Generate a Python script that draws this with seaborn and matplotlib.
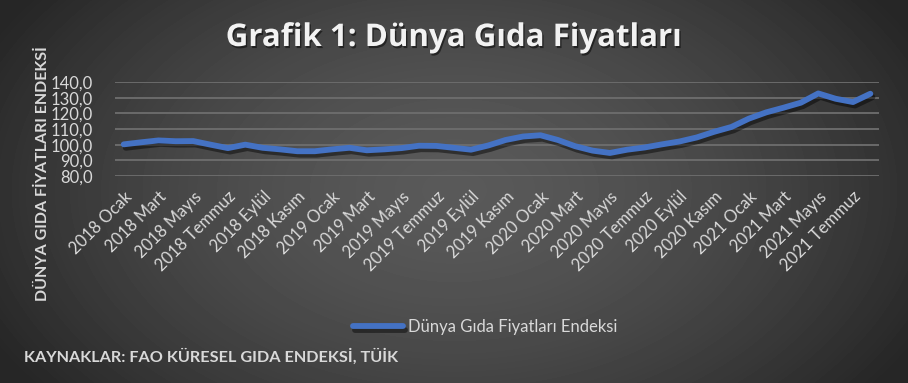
import numpy as np
import pandas as pd
import seaborn as sns
import matplotlib.pyplot as plt
import matplotlib.patheffects as pe
from matplotlib.ticker import FuncFormatter

# monthly index, 2018 Ocak .. 2021 Agustos
months = ['Ocak', 'Şubat', 'Mart', 'Nisan', 'Mayıs', 'Haziran',
          'Temmuz', 'Ağustos', 'Eylül', 'Ekim', 'Kasım', 'Aralık']
years = [2018, 2019, 2020, 2021]
values = [100.2, 101.5, 102.7, 102.2, 102.3, 100.0, 97.8, 100.0, 98.0, 97.0, 95.8, 95.8,
          97.0, 98.0, 96.4, 97.0, 97.8, 99.3, 99.2, 98.0, 96.8, 99.5, 103.0, 105.2,
          106.0, 103.0, 99.0, 96.2, 94.7, 96.8, 98.2, 100.2, 102.0, 104.6, 108.2, 111.3,
          116.6, 120.6, 123.6, 126.8, 132.7, 129.3, 127.2, 132.5]
labels = [f'{y} {m}' for y in years for m in months][:len(values)]

df = pd.DataFrame({'idx': range(len(values)), 'endeks': values, 'ay': labels})

sns.set_style('white')
plt.rcParams['font.family'] = ['Lato', 'DejaVu Sans']
txt = '#d9d9d9'

fig = plt.figure(figsize=(9.08, 3.83), dpi=100)

# radial grey background
bg = fig.add_axes([0, 0, 1, 1], zorder=-1)
yy, xx = np.mgrid[0:383, 0:908]
d = np.sqrt(((xx - 454) / 520) ** 2 + ((yy - 190) / 330) ** 2)
shade = 0.35 - 0.20 * np.clip(d, 0, 1) ** 1.6
bg.imshow(shade, cmap='gray', vmin=0, vmax=1, aspect='auto', extent=(0, 1, 0, 1))
bg.set_axis_off()

ax = fig.add_axes([0.1267, 0.5405, 0.8414, 0.2454])
ax.patch.set_alpha(0)
sns.lineplot(data=df, x='idx', y='endeks', ax=ax, color='#4472C4', lw=4.2,
             solid_capstyle='round', label='Dünya Gıda Fiyatları Endeksi', legend=False,
             path_effects=[pe.SimpleLineShadow(offset=(1.5, -2.5), shadow_color='black', alpha=0.45),
                           pe.Normal()])

ax.set_xlim(-0.5, len(values) - 0.5)
ax.set_ylim(80, 140)
ax.set_yticks(range(80, 141, 10))
ax.yaxis.set_major_formatter(FuncFormatter(lambda v, p: f'{v:.1f}'.replace('.', ',')))
ax.set_xticks(df['idx'][::2])
ax.set_xticklabels(df['ay'][::2], rotation=45, ha='right', rotation_mode='anchor')
ax.tick_params(axis='both', length=0, colors=txt, labelsize=12)
ax.tick_params(axis='x', pad=9)
ax.tick_params(axis='y', pad=16)
ax.grid(axis='y', color='#6e6e6e', lw=1.3)
ax.set_axisbelow(True)
for s in ax.spines.values():
    s.set_visible(False)
ax.set_xlabel('')
ax.set_ylabel('')

fig.text(0.5, 1 - 38 / 383, 'Grafik 1: Dünya Gıda Fiyatları', ha='center', va='center',
         color='#f2f2f2', fontsize=22.5, fontweight='bold', family=['Open Sans', 'DejaVu Sans'],
         path_effects=[pe.withSimplePatchShadow(offset=(1, -1.5), shadow_rgbFace='black', alpha=0.5)])
fig.text(43 / 908, 1 - 174 / 383, 'DÜNYA GIDA FİYATLARI ENDEKSİ', rotation=90, ha='center', va='center',
         color=txt, fontsize=11.5, fontweight='bold')
fig.text(24 / 908, 1 - 357 / 383, 'KAYNAKLAR: FAO KÜRESEL GIDA ENDEKSİ, TÜİK', ha='left', va='center',
         color=txt, fontsize=11.7, fontweight='bold')

h, l = ax.get_legend_handles_labels()
fig.legend(h, l, loc='center', bbox_to_anchor=(485 / 908, 1 - 327 / 383), frameon=False,
           labelcolor=txt, fontsize=12, handlelength=3.0, handletextpad=0.3)

fig.savefig('out.png', dpi=100)
